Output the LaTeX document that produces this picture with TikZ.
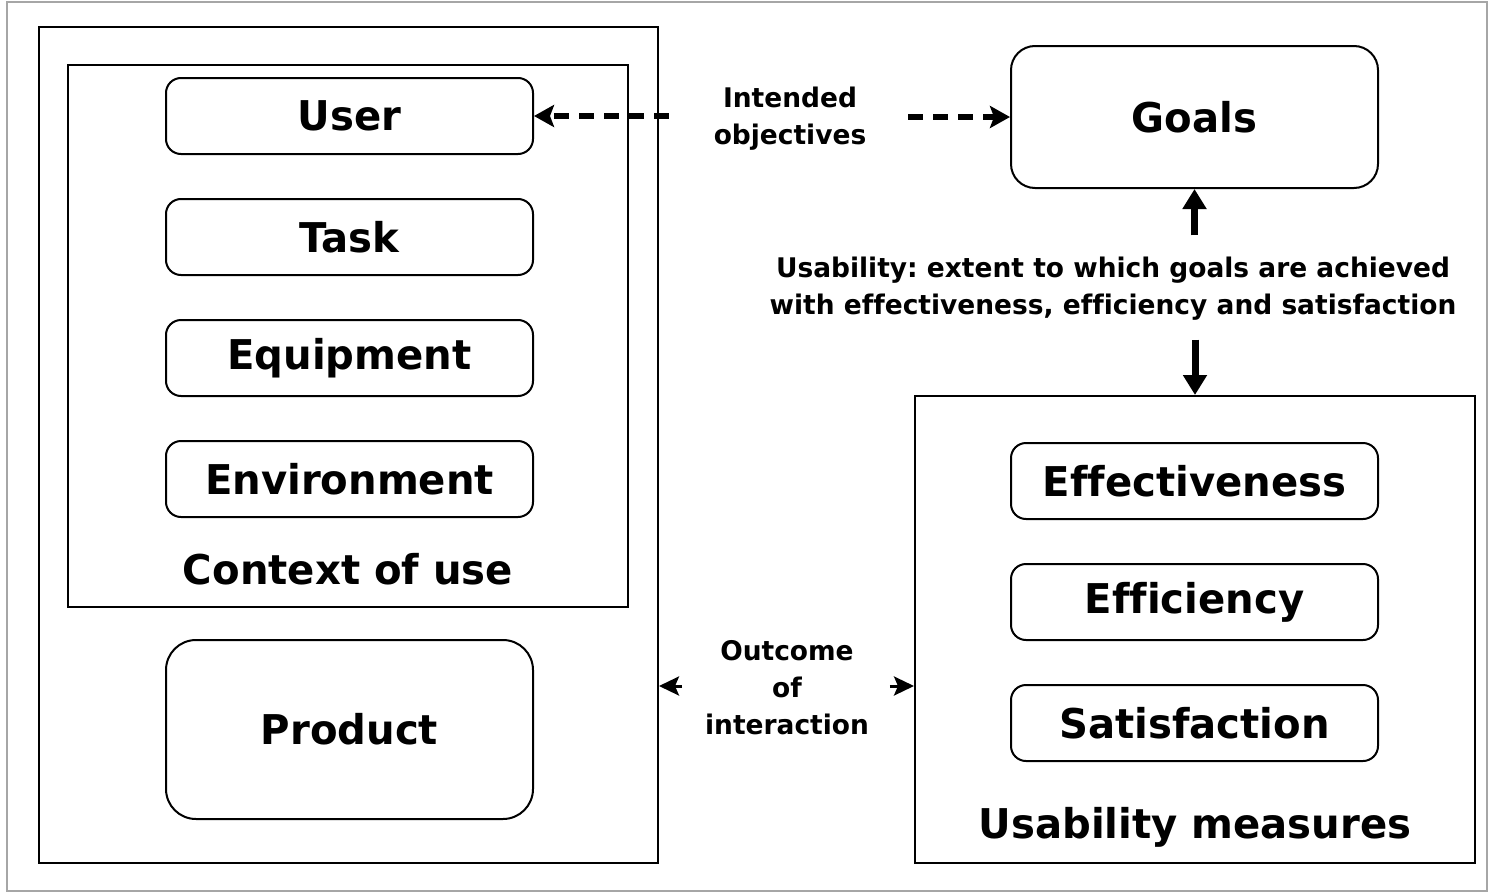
\documentclass[tikz,border=0pt]{standalone}
\usepackage{fontspec}
\setmainfont{DejaVu Sans}[FakeStretch=0.98,Ligatures=NoCommon]
\frenchspacing
\usetikzlibrary{arrows.meta}
\tikzset{
    box/.style={draw,line width=1pt,rounded corners=7.5pt,minimum width=183.5pt,minimum height=38pt,inner sep=0pt,font=\bfseries\fontsize{20.5}{24}\selectfont},
    frame/.style={draw,line width=1pt,inner sep=0pt},
    bigtxt/.style={font=\bfseries\fontsize{20.5}{24}\selectfont},
    lbl/.style={align=center,font=\bfseries\fontsize{13.5}{18.5}\selectfont},
    dasharrow/.style={line width=3pt,dash pattern=on 7.5pt off 5pt,-{Stealth[length=10pt,width=11pt,inset=2pt]}},
    thickarrow/.style={line width=3.5pt,-{Triangle[length=10pt,width=11.5pt]}},
    smallarrow/.style={line width=1.5pt,-{Stealth[length=10pt,width=9.5pt,inset=2pt]}}
}
\begin{document}
\begin{tikzpicture}[x=0.5pt,y=-0.5pt]
                \useasboundingbox (0,0) rectangle (1489,894);
                \draw[gray!70,line width=0.6pt] (7,2) rectangle (1487,891);
                % left side
                \node[frame,minimum width=309.5pt,minimum height=418pt] (system) at (348.5,445) {};
                \draw[frame] (68,65) rectangle (628,607);
                \foreach \y/\n/\t in {116/user/User,237/task/Task,358/equip/Equipment,479/env/Environment}
                    {
                        \node[box] (\n) at (349.5,\y) {\t};
                    }
                \node[bigtxt] (ctx) at (348,569) {Context of use};
                \node[box,minimum height=89.5pt,rounded corners=15pt] (product) at (349.5,729.5) {Product};
                % right side
                \node[box,minimum height=71pt,rounded corners=12pt] (goals) at (1194.5,117) {Goals};
                \node[frame,minimum width=280pt,minimum height=233.5pt] (measures) at (1195,629.5) {};
                \foreach \y/\n/\t in {481/effect/Effectiveness,602/effic/Efficiency,723/satis/Satisfaction}
                    {
                        \node[box] (\n) at (1194.5,\y) {\t};
                    }
                \node[bigtxt] (mlbl) at (1195,827) {Usability measures};
                % labels and arrows
                \node[lbl] (intent) at (790,119) {Intended\\objectives};
                \node[lbl] (usab) at (1113,289) {Usability: extent to which goals are achieved\\with effectiveness, efficiency and satisfaction};
                \node[lbl] (outcome) at (787,688) {Outcome\\of\\interaction};
                \draw[dasharrow] ([xshift=-19pt]intent.west |- user.east) -- (user.east);
                \draw[dasharrow] ([xshift=17.5pt]intent.east |- goals.west) -- (goals.west);
                \draw[thickarrow] ([yshift=7.5pt]usab.north -| goals.south) -- (goals.south);
                \draw[thickarrow] ([yshift=-6pt]usab.south -| measures.north) -- (measures.north);
                \draw[smallarrow] ([xshift=-8pt]outcome.west |- 0,686) -- (system.east |- 0,686);
                \draw[smallarrow] ([xshift=7pt]outcome.east |- 0,686) -- (measures.west |- 0,686);
            \end{tikzpicture}
\end{document}
